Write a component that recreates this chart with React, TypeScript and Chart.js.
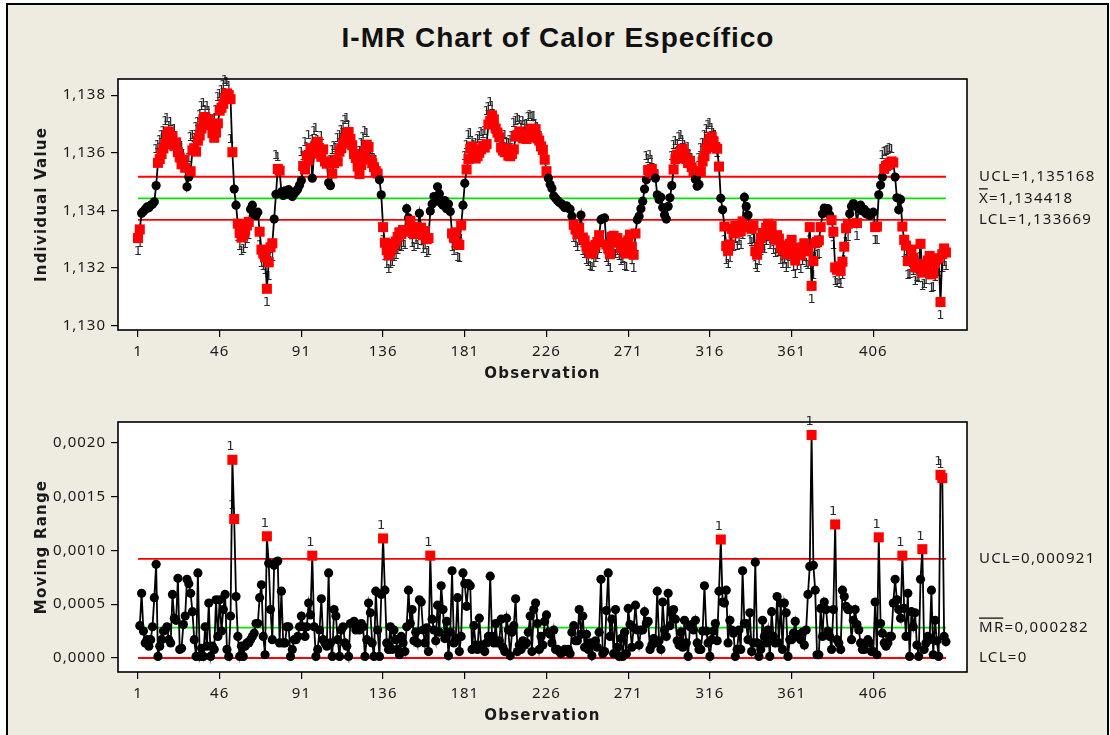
import React, { useEffect, useRef } from "react";
import { Chart, registerables } from "chart.js";

Chart.register(...registerables);

const TITLE = "I-MR Chart of Calor Específico";
const X_TITLE = "Observation";
const I_TITLE = "Individual Value";
const MR_TITLE = "Moving Range";

const X_TICKS = [1, 46, 91, 136, 181, 226, 271, 316, 361, 406];
const I_TICKS = [1.13, 1.132, 1.134, 1.136, 1.138];
const MR_TICKS = [0, 0.0005, 0.001, 0.0015, 0.002];

// UCL, center line, LCL
const I_LIMITS = [1.135168, 1.134418, 1.133669];
const MR_LIMITS = [0.000921, 0.000282, 0];
const I_LIMIT_TEXT = [
  { bar: "", rest: "UCL=1,135168" },
  { bar: "X", rest: "=1,134418" },
  { bar: "", rest: "LCL=1,133669" },
];
const MR_LIMIT_TEXT = [
  { bar: "", rest: "UCL=0,000921" },
  { bar: "MR", rest: "=0,000282" },
  { bar: "", rest: "LCL=0" },
];

const INDIVIDUAL = [
  1.13304, 1.13334, 1.13390, 1.13396, 1.13404, 1.13412, 1.13409, 1.13418, 1.13421, 1.13430,
  1.13486, 1.13565, 1.13578, 1.13596, 1.13615, 1.13630, 1.13662, 1.13674, 1.13646, 1.13658,
  1.13624, 1.13636, 1.13602, 1.13584, 1.13560, 1.13576, 1.13548, 1.13482, 1.13516, 1.13536,
  1.13608, 1.13616, 1.13604, 1.13642, 1.13660, 1.13684, 1.13716, 1.13724, 1.13702, 1.13714,
  1.13696, 1.13668, 1.13652, 1.13670, 1.13702, 1.13746, 1.13756, 1.13770, 1.13788, 1.13806,
  1.13800, 1.13786, 1.13602, 1.13474, 1.13418, 1.13354, 1.13322, 1.13306, 1.13314, 1.13330,
  1.13348, 1.13360, 1.13404, 1.13418, 1.13386, 1.13382, 1.13394, 1.13326, 1.13264, 1.13252,
  1.13238, 1.13128, 1.13220, 1.13272, 1.13286, 1.13370, 1.13456, 1.13544, 1.13538, 1.13464,
  1.13452, 1.13468, 1.13456, 1.13472, 1.13464, 1.13448, 1.13458, 1.13466, 1.13474, 1.13488,
  1.13504, 1.13554, 1.13542, 1.13590, 1.13574, 1.13616, 1.13512, 1.13598, 1.13628, 1.13638,
  1.13598, 1.13586, 1.13612, 1.13570, 1.13562, 1.13496, 1.13486, 1.13528, 1.13564, 1.13576,
  1.13570, 1.13604, 1.13616, 1.13632, 1.13648, 1.13666, 1.13672, 1.13648, 1.13626, 1.13596,
  1.13582, 1.13552, 1.13526, 1.13558, 1.13588, 1.13606, 1.13628, 1.13620, 1.13576, 1.13564,
  1.13550, 1.13536, 1.13528, 1.13506, 1.13454, 1.13342, 1.13288, 1.13262, 1.13244, 1.13260,
  1.13268, 1.13284, 1.13292, 1.13308, 1.13324, 1.13318, 1.13332, 1.13326, 1.13406, 1.13374,
  1.13364, 1.13334, 1.13318, 1.13342, 1.13328, 1.13390, 1.13340, 1.13314, 1.13328, 1.13300,
  1.13304, 1.13398, 1.13422, 1.13448, 1.13432, 1.13482, 1.13458, 1.13426, 1.13418, 1.13434,
  1.13406, 1.13422, 1.13396, 1.13320, 1.13306, 1.13324, 1.13286, 1.13280, 1.13348, 1.13418,
  1.13494, 1.13542, 1.13578, 1.13614, 1.13622, 1.13592, 1.13580, 1.13588, 1.13600, 1.13612,
  1.13624, 1.13618, 1.13630, 1.13698, 1.13710, 1.13730, 1.13716, 1.13684, 1.13670, 1.13654,
  1.13618, 1.13608, 1.13602, 1.13616, 1.13590, 1.13588, 1.13596, 1.13612, 1.13656, 1.13662,
  1.13674, 1.13666, 1.13650, 1.13662, 1.13648, 1.13654, 1.13678, 1.13684, 1.13676, 1.13682,
  1.13650, 1.13642, 1.13622, 1.13610, 1.13576, 1.13536, 1.13512, 1.13490, 1.13476, 1.13450,
  1.13442, 1.13434, 1.13428, 1.13424, 1.13418, 1.13410, 1.13416, 1.13408, 1.13404, 1.13380,
  1.13350, 1.13334, 1.13318, 1.13340, 1.13384, 1.13306, 1.13296, 1.13274, 1.13266, 1.13252,
  1.13250, 1.13264, 1.13280, 1.13290, 1.13314, 1.13368, 1.13372, 1.13374, 1.13282, 1.13268,
  1.13248, 1.13308, 1.13312, 1.13294, 1.13304, 1.13288, 1.13270, 1.13278, 1.13254, 1.13250,
  1.13296, 1.13316, 1.13274, 1.13246, 1.13320, 1.13368, 1.13380, 1.13406, 1.13432, 1.13474,
  1.13506, 1.13540, 1.13532, 1.13544, 1.13526, 1.13512, 1.13454, 1.13438, 1.13446, 1.13410,
  1.13384, 1.13370, 1.13414, 1.13444, 1.13486, 1.13542, 1.13578, 1.13594, 1.13582, 1.13606,
  1.13614, 1.13596, 1.13578, 1.13564, 1.13572, 1.13550, 1.13536, 1.13508, 1.13484, 1.13490,
  1.13536, 1.13570, 1.13588, 1.13614, 1.13634, 1.13648, 1.13656, 1.13640, 1.13620, 1.13614,
  1.13552, 1.13442, 1.13402, 1.13344, 1.13276, 1.13260, 1.13282, 1.13336, 1.13320, 1.13346,
  1.13324, 1.13340, 1.13328, 1.13362, 1.13446, 1.13414, 1.13384, 1.13342, 1.13336, 1.13348,
  1.13258, 1.13246, 1.13270, 1.13304, 1.13322, 1.13314, 1.13340, 1.13354, 1.13328, 1.13346,
  1.13310, 1.13298, 1.13314, 1.13302, 1.13274, 1.13262, 1.13278, 1.13248, 1.13260, 1.13284,
  1.13298, 1.13250, 1.13226, 1.13254, 1.13270, 1.13244, 1.13272, 1.13286, 1.13264, 1.13258,
  1.13342, 1.13138, 1.13224, 1.13286, 1.13290, 1.13296, 1.13342, 1.13388, 1.13408, 1.13396,
  1.13406, 1.13384, 1.13366, 1.13326, 1.13202, 1.13194, 1.13206, 1.13190, 1.13222, 1.13274,
  1.13338, 1.13354, 1.13388, 1.13414, 1.13424, 1.13416, 1.13356, 1.13406, 1.13418, 1.13398,
  1.13404, 1.13388, 1.13392, 1.13382, 1.13388, 1.13394, 1.13342, 1.13344, 1.13454, 1.13488,
  1.13516, 1.13544, 1.13554, 1.13558, 1.13564, 1.13570, 1.13566, 1.13516, 1.13444, 1.13402,
  1.13438, 1.13344, 1.13298, 1.13278, 1.13224, 1.13226, 1.13264, 1.13236, 1.13202, 1.13214,
  1.13212, 1.13284, 1.13184, 1.13192, 1.13206, 1.13226, 1.13242, 1.13178, 1.13182, 1.13216,
  1.13232, 1.13234, 1.13082, 1.13248, 1.13268, 1.13254,
];

const MOVING_RANGE: (number | null)[] = [
  null, 0.00030, 0.00060, 0.00025, 0.00014, 0.00017, 0.00011, 0.00017, 0.00029, 0.00056,
  0.00087, 0.000015, 0.00011, 0.00017, 0.00025, 0.00026, 0.00029, 0.00017, 0.00014, 0.00059,
  0.00037, 0.00035, 0.00074, 0.00008, 0.00009, 0.00031, 0.00039, 0.00073, 0.00069, 0.00060,
  0.00043, 0.00017, 0.000015, 0.00079, 0.000015, 0.00009, 0.000015, 0.00029, 0.00011, 0.00051,
  0.000015, 0.00011, 0.00008, 0.00054, 0.00020, 0.00054, 0.00025, 0.00045, 0.00059, 0.00008,
  0.000015, 0.00039, 0.00184, 0.00129, 0.00057, 0.00020, 0.000015, 0.00011, 0.000015, 0.00011,
  0.00014, 0.00014, 0.00017, 0.00020, 0.00023, 0.00032, 0.00032, 0.00056, 0.00068, 0.00020,
  0.00003, 0.00113, 0.00088, 0.00045, 0.00017, 0.00086, 0.00089, 0.00090, 0.00014, 0.00062,
  0.00014, 0.00014, 0.00029, 0.00029, 0.000015, 0.00008, 0.00017, 0.00017, 0.00020, 0.00029,
  0.00039, 0.00029, 0.00020, 0.00029, 0.00051, 0.00040, 0.00095, 0.00029, 0.000015, 0.00008,
  0.00026, 0.00055, 0.00017, 0.00014, 0.00011, 0.00079, 0.00014, 0.000015, 0.00045, 0.00039,
  0.00017, 0.000015, 0.00026, 0.00029, 0.00014, 0.00011, 0.000015, 0.00032, 0.00032, 0.00034,
  0.00026, 0.00029, 0.00026, 0.00032, 0.00029, 0.000015, 0.00017, 0.00051, 0.00042, 0.00014,
  0.000015, 0.00062, 0.00026, 0.000015, 0.00059, 0.00111, 0.00063, 0.00014, 0.00008, 0.00029,
  0.00008, 0.00026, 0.00017, 0.00008, 0.00003, 0.00020, 0.00014, 0.00006, 0.00029, 0.00063,
  0.00032, 0.00045, 0.00016, 0.00024, 0.00014, 0.00054, 0.00052, 0.00026, 0.00014, 0.00028,
  0.00006, 0.00095, 0.00036, 0.00026, 0.00016, 0.00049, 0.00024, 0.00067, 0.00045, 0.00018,
  0.00034, 0.00002, 0.00024, 0.00081, 0.00014, 0.00018, 0.00056, 0.00006, 0.00020, 0.00079,
  0.00069, 0.00048, 0.00069, 0.00067, 0.00008, 0.00030, 0.00012, 0.00008, 0.00037, 0.00012,
  0.00012, 0.00006, 0.00014, 0.00020, 0.00076, 0.00020, 0.00014, 0.00032, 0.00014, 0.00016,
  0.00036, 0.00010, 0.00006, 0.00037, 0.00026, 0.00002, 0.00024, 0.00030, 0.00055, 0.00006,
  0.00012, 0.00008, 0.00016, 0.00012, 0.00014, 0.00024, 0.00039, 0.00006, 0.00045, 0.00051,
  0.00032, 0.00008, 0.00020, 0.00012, 0.00034, 0.00040, 0.00024, 0.00022, 0.00014, 0.00026,
  0.00008, 0.00008, 0.00006, 0.00004, 0.00006, 0.00008, 0.00006, 0.00008, 0.00004, 0.00024,
  0.00030, 0.00016, 0.00016, 0.00045, 0.00022, 0.00039, 0.00010, 0.00022, 0.00008, 0.00014,
  0.00002, 0.00014, 0.00016, 0.00010, 0.00024, 0.00073, 0.00004, 0.00006, 0.00044, 0.00079,
  0.00020, 0.00036, 0.00004, 0.00045, 0.00010, 0.000015, 0.00018, 0.000015, 0.00024, 0.00004,
  0.00046, 0.00031, 0.00010, 0.00028, 0.00049, 0.00026, 0.00012, 0.00026, 0.00026, 0.00043,
  0.00032, 0.00034, 0.00008, 0.00012, 0.00018, 0.00014, 0.00062, 0.00016, 0.00008, 0.00052,
  0.00026, 0.00020, 0.00060, 0.00030, 0.00042, 0.00045, 0.00036, 0.00016, 0.00012, 0.00024,
  0.00010, 0.00035, 0.00014, 0.000015, 0.00029, 0.00031, 0.00026, 0.00035, 0.00014, 0.00008,
  0.00008, 0.00025, 0.00067, 0.00025, 0.00014, 0.000015, 0.00017, 0.00025, 0.00032, 0.00016,
  0.00062, 0.00110, 0.00052, 0.00051, 0.00063, 0.00014, 0.00035, 0.00026, 0.00023, 0.000015,
  0.00008, 0.00026, 0.00008, 0.00081, 0.00032, 0.00032, 0.00017, 0.00042, 0.00006, 0.00014,
  0.00089, 0.00014, 0.000015, 0.00008, 0.00035, 0.00020, 0.00014, 0.00026, 0.000015, 0.00043,
  0.00020, 0.00014, 0.00057, 0.00014, 0.00051, 0.00008, 0.00051, 0.00042, 0.000015, 0.00017,
  0.00017, 0.00023, 0.00034, 0.00020, 0.00022, 0.00017, 0.00024, 0.00012, 0.00026, 0.00059,
  0.00085, 0.00207, 0.00086, 0.00063, 0.00003, 0.00003, 0.00046, 0.00020, 0.00052, 0.00045,
  0.00025, 0.00020, 0.00008, 0.00045, 0.00124, 0.00017, 0.00014, 0.00008, 0.00063, 0.00057,
  0.00048, 0.00045, 0.00045, 0.00017, 0.00035, 0.00045, 0.00031, 0.00026, 0.00014, 0.00008,
  0.00008, 0.00014, 0.00017, 0.00014, 0.00006, 0.00006, 0.00052, 0.00003, 0.00112, 0.00032,
  0.00023, 0.00014, 0.00011, 0.00014, 0.00020, 0.00020, 0.00051, 0.00073, 0.00054, 0.00045,
  0.00037, 0.00095, 0.00046, 0.00020, 0.00060, 0.000015, 0.00043, 0.00029, 0.00042, 0.00012,
  0.000015, 0.00073, 0.00101, 0.00008, 0.00014, 0.00020, 0.00017, 0.00063, 0.00003, 0.00035,
  0.00016, 0.000015, 0.00170, 0.00167, 0.00020, 0.00015,
];

const X_MIN = -10;
const X_MAX = 457.6;
const TEXT_COLOR = "#1a1a1a";
const TICK_FONT = { family: "Noto Sans", size: 15 };

type LimitText = { bar: string; rest: string };

function makeDecor(limits: number[], texts: LimitText[], yTitle: string) {
  return {
    id: "decor",
    beforeDraw(chart: any) {
      const { ctx, chartArea: a } = chart;
      ctx.save();
      ctx.fillStyle = "#ffffff";
      ctx.fillRect(a.left, a.top, a.right - a.left, a.bottom - a.top);
      ctx.restore();
      (ctx as any).letterSpacing = "1px";
    },
    beforeDatasetsDraw(chart: any) {
      const { ctx } = chart;
      const xs = chart.scales.x;
      const ys = chart.scales.y;
      const pts = chart.data.datasets[0].data as { x: number; y: number }[];
      const x0 = xs.getPixelForValue(1);
      const x1 = xs.getPixelForValue(pts[pts.length - 1].x);
      const colors = ["#ff0000", "#00e600", "#ff0000"];
      ctx.save();
      limits.forEach((v, i) => {
        const y = ys.getPixelForValue(v);
        ctx.strokeStyle = colors[i];
        ctx.lineWidth = 1.8;
        ctx.beginPath();
        ctx.moveTo(x0, y);
        ctx.lineTo(x1, y);
        ctx.stroke();
      });
      (ctx as any).letterSpacing = "0px";
      ctx.font = '13px "DejaVu Sans"';
      ctx.fillStyle = "#2a2a2a";
      ctx.textAlign = "center";
      ctx.textBaseline = "middle";
      for (const p of pts) {
        const px = xs.getPixelForValue(p.x);
        const py = ys.getPixelForValue(p.y);
        if (p.y > limits[0]) ctx.fillText("1", px - 2, py - 13);
        else if (p.y < limits[2]) ctx.fillText("1", px, py + 14);
      }
      ctx.restore();
    },
    afterDraw(chart: any) {
      const { ctx, chartArea: a } = chart;
      const ys = chart.scales.y;
      ctx.save();
      ctx.strokeStyle = "#000000";
      ctx.lineWidth = 1.6;
      ctx.strokeRect(a.left, a.top, a.right - a.left, a.bottom - a.top);

      ctx.fillStyle = TEXT_COLOR;
      ctx.font = 'bold 15px "DejaVu Sans"';
      (ctx as any).letterSpacing = "1.2px";
      ctx.textAlign = "center";
      ctx.textBaseline = "middle";
      ctx.fillText(X_TITLE, (a.left + a.right) / 2, a.bottom + 44);
      ctx.save();
      ctx.translate(a.left - 76, (a.top + a.bottom) / 2);
      ctx.rotate(-Math.PI / 2);
      ctx.fillText(yTitle, 0, 0);
      ctx.restore();

      ctx.font = '15px "Noto Sans"';
      (ctx as any).letterSpacing = "1.3px";
      ctx.textAlign = "left";
      ctx.textBaseline = "middle";
      ctx.lineWidth = 1.2;
      limits.forEach((v, i) => {
        const y = ys.getPixelForValue(v);
        const x = a.right + 12;
        const t = texts[i];
        ctx.fillText(t.bar + t.rest, x, y);
        if (t.bar) {
          const w = ctx.measureText(t.bar).width - 1.3;
          ctx.beginPath();
          ctx.moveTo(x, y - 9.5);
          ctx.lineTo(x + w, y - 9.5);
          ctx.stroke();
        }
      });
      ctx.restore();
    },
  };
}

function makeConfig(
  values: (number | null)[],
  yMin: number,
  yMax: number,
  yTicks: number[],
  digits: number,
  limits: number[],
  texts: LimitText[],
  yTitle: string,
  padTop: number,
  padBottom: number
): any {
  const points = values
    .map((v, i) => ({ x: i + 1, y: v }))
    .filter((p) => p.y !== null) as { x: number; y: number }[];
  const isOut = (v: number) => v > limits[0] || v < limits[2];
  const gridCfg = {
    display: true,
    drawOnChartArea: false,
    drawTicks: true,
    tickLength: 7,
    color: "#000000",
    lineWidth: 1.2,
  };
  return {
    type: "line",
    data: {
      datasets: [
        {
          data: points,
          borderColor: "#000000",
          borderWidth: 1.8,
          tension: 0,
          pointStyle: (c: any) => (isOut(c.raw.y) ? "rect" : "circle"),
          pointRadius: (c: any) => (isOut(c.raw.y) ? 7.1 : 4.6),
          pointHoverRadius: (c: any) => (isOut(c.raw.y) ? 7.1 : 4.6),
          pointBackgroundColor: (c: any) => (isOut(c.raw.y) ? "#ff0000" : "#000000"),
          pointBorderColor: (c: any) => (isOut(c.raw.y) ? "#ff0000" : "#000000"),
          pointBorderWidth: 0,
        },
      ],
    },
    options: {
      responsive: false,
      animation: false,
      devicePixelRatio: 1,
      events: [],
      layout: {
        autoPadding: false,
        padding: { left: 0, top: padTop, right: 138, bottom: padBottom },
      },
      plugins: {
        legend: { display: false },
        tooltip: { enabled: false },
        title: { display: false },
      },
      scales: {
        x: {
          type: "linear",
          min: X_MIN,
          max: X_MAX,
          afterBuildTicks: (s: any) => {
            s.ticks = X_TICKS.map((v) => ({ value: v }));
          },
          afterFit: (s: any) => {
            s.height = 60;
          },
          ticks: {
            font: TICK_FONT,
            color: TEXT_COLOR,
            padding: 6,
            autoSkip: false,
            maxRotation: 0,
            callback: (v: any) => String(v),
          },
          grid: gridCfg,
          border: { display: false },
        },
        y: {
          type: "linear",
          min: yMin,
          max: yMax,
          afterBuildTicks: (s: any) => {
            s.ticks = yTicks.map((v) => ({ value: v }));
          },
          afterFit: (s: any) => {
            s.width = 108;
          },
          ticks: {
            font: TICK_FONT,
            color: TEXT_COLOR,
            padding: 5,
            callback: (v: any) => Number(v).toFixed(digits).replace(".", ","),
          },
          grid: gridCfg,
          border: { display: false },
        },
      },
    },
    plugins: [makeDecor(limits, texts, yTitle)],
  };
}

export default function App() {
  const topRef = useRef<HTMLCanvasElement>(null);
  const botRef = useRef<HTMLCanvasElement>(null);

  useEffect(() => {
    const c1 = new Chart(
      topRef.current as HTMLCanvasElement,
      makeConfig(INDIVIDUAL, 1.12985, 1.13856, I_TICKS, 3, I_LIMITS, I_LIMIT_TEXT, I_TITLE, 19, 0)
    );
    const c2 = new Chart(
      botRef.current as HTMLCanvasElement,
      makeConfig(MOVING_RANGE, -0.00013, 0.002191, MR_TICKS, 4, MR_LIMITS, MR_LIMIT_TEXT, MR_TITLE, 27, 3)
    );
    return () => {
      c1.destroy();
      c2.destroy();
    };
  }, []);

  return (
    <div
      style={{
        position: "fixed",
        left: 0,
        top: 0,
        width: 1110,
        height: 735,
        overflow: "hidden",
        background: "#ffffff",
      }}
    >
      <div
        style={{
          position: "absolute",
          left: 6,
          top: 3,
          width: 1103,
          height: 760,
          background: "#EEEBE1",
          border: "2px solid #000",
          boxSizing: "border-box",
        }}
      />
      <div
        style={{
          position: "absolute",
          left: 3,
          top: 20,
          width: 1110,
          height: 36,
          lineHeight: "36px",
          textAlign: "center",
          fontFamily: '"Liberation Sans", Arial, sans-serif',
          fontWeight: "bold",
          fontSize: 28,
          letterSpacing: "1px",
          color: "#111",
        }}
      >
        {TITLE}
      </div>
      <canvas
        ref={topRef}
        width={1095}
        height={330}
        style={{ position: "absolute", left: 10, top: 60 }}
      />
      <canvas
        ref={botRef}
        width={1095}
        height={340}
        style={{ position: "absolute", left: 10, top: 395 }}
      />
    </div>
  );
}
